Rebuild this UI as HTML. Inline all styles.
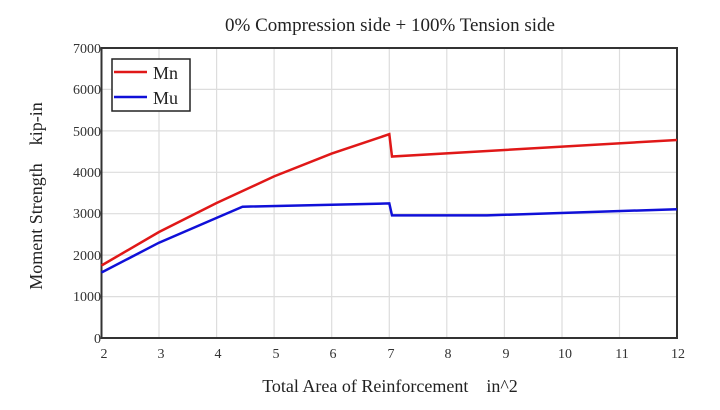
<!DOCTYPE html>
<html><head><style>body{margin:0;background:#fff}svg{display:block}</style></head><body>
<svg width="720" height="410" xmlns="http://www.w3.org/2000/svg" font-family="Liberation Serif, serif">
<text x="390" y="31" font-size="19" text-anchor="middle" fill="#222">0% Compression side + 100% Tension side</text>
<g stroke="#ddd" stroke-width="1.2">
<line x1="159" y1="48" x2="159" y2="338"/><line x1="216.6" y1="48" x2="216.6" y2="338"/><line x1="274.1" y1="48" x2="274.1" y2="338"/><line x1="331.7" y1="48" x2="331.7" y2="338"/><line x1="389.3" y1="48" x2="389.3" y2="338"/><line x1="446.8" y1="48" x2="446.8" y2="338"/><line x1="504.4" y1="48" x2="504.4" y2="338"/><line x1="562" y1="48" x2="562" y2="338"/><line x1="619.5" y1="48" x2="619.5" y2="338"/>
<line x1="101.5" y1="89.4" x2="677" y2="89.4"/><line x1="101.5" y1="130.9" x2="677" y2="130.9"/><line x1="101.5" y1="172.3" x2="677" y2="172.3"/><line x1="101.5" y1="213.7" x2="677" y2="213.7"/><line x1="101.5" y1="255.1" x2="677" y2="255.1"/><line x1="101.5" y1="296.6" x2="677" y2="296.6"/>
</g>
<rect x="101.5" y="48" width="575.5" height="290" fill="none" stroke="#333" stroke-width="2"/>
<polyline fill="none" stroke="#e01818" stroke-width="2.5" points="101.5,265.5 159,232 216.6,203 274.1,176.4 331.7,153.6 389.3,134.2 392,156.5 677,140"/>
<polyline fill="none" stroke="#1010d8" stroke-width="2.5" points="101.5,272.5 159,242.7 216.6,217.9 242.5,206.7 389.3,203.4 392,215.4 487,215.4 677,209.2"/>
<rect x="112" y="59" width="78" height="52" fill="#fff" stroke="#222" stroke-width="1.5"/>
<line x1="114" y1="72" x2="147" y2="72" stroke="#e01818" stroke-width="2.5"/>
<line x1="114" y1="97" x2="147" y2="97" stroke="#1010d8" stroke-width="2.5"/>
<text x="153" y="79" font-size="18" fill="#222">Mn</text>
<text x="153" y="104" font-size="18" fill="#222">Mu</text>
<g font-size="14" fill="#333" text-anchor="end">
<text x="101" y="53">7000</text><text x="101" y="94">6000</text><text x="101" y="136">5000</text><text x="101" y="177">4000</text><text x="101" y="218">3000</text><text x="101" y="260">2000</text><text x="101" y="301">1000</text><text x="101" y="343">0</text>
</g>
<g font-size="14" fill="#333" text-anchor="middle">
<text x="104" y="358">2</text><text x="161" y="358">3</text><text x="218" y="358">4</text><text x="276" y="358">5</text><text x="333" y="358">6</text><text x="391" y="358">7</text><text x="448" y="358">8</text><text x="506" y="358">9</text><text x="565" y="358">10</text><text x="622" y="358">11</text><text x="678" y="358">12</text>
</g>
<text x="390" y="392" font-size="18" text-anchor="middle" fill="#222">Total Area of Reinforcement &#160;&#160;&#160;in^2</text>
<text transform="translate(42,196) rotate(-90)" font-size="18" text-anchor="middle" fill="#222">Moment Strength &#160;&#160;&#160;kip-in</text>
</svg>
</body></html>
